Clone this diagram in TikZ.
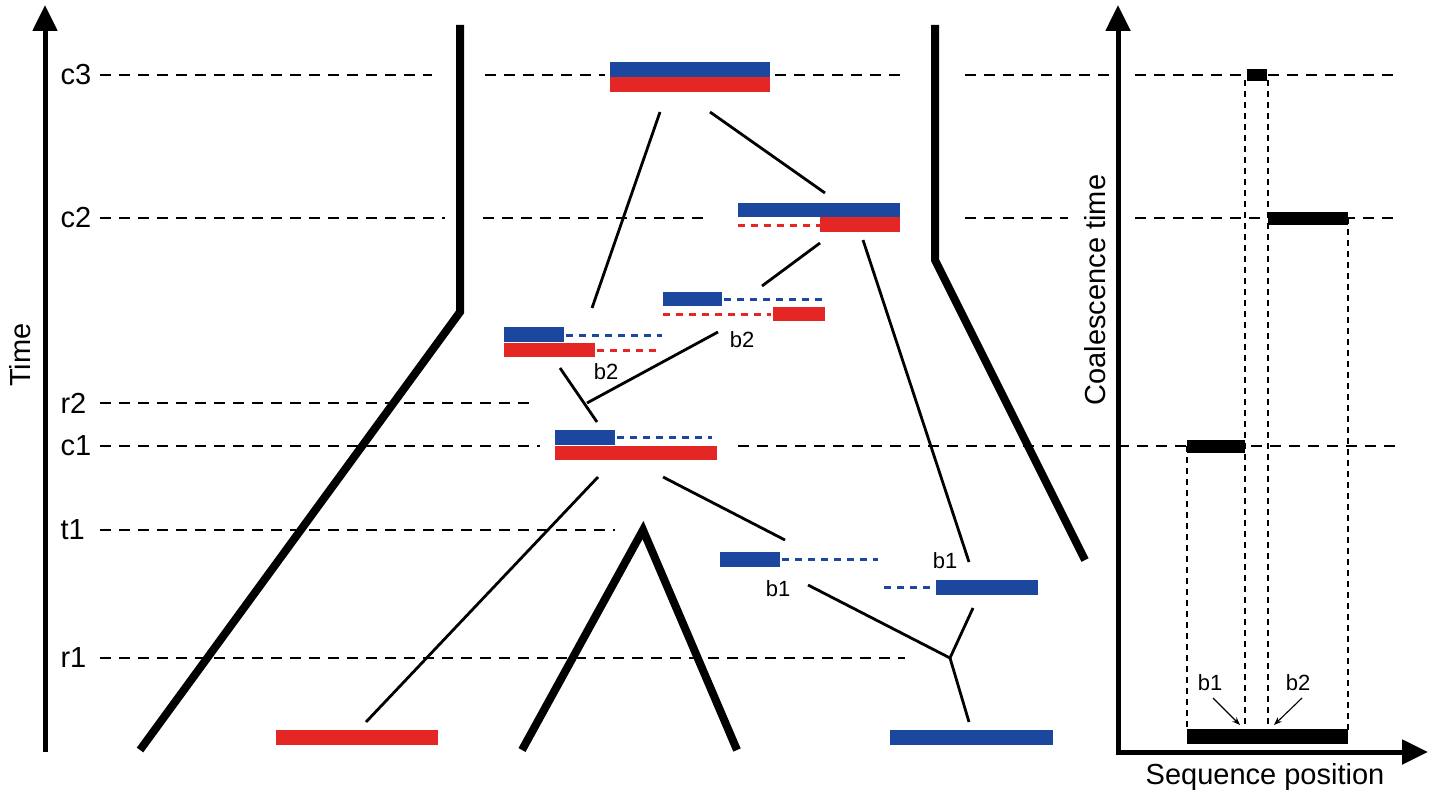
\documentclass[tikz,border=0pt]{standalone}
\usepackage{fontspec}
\setmainfont{Liberation Sans}
\usetikzlibrary{arrows.meta}
\definecolor{bblue}{RGB}{27,72,158}
\definecolor{rred}{RGB}{228,38,36}
\begin{document}
\begin{tikzpicture}[x=1pt,y=-1pt,
  lvl/.style={black,line width=2.8pt,dash pattern=on 11pt off 8pt},
  thick pop/.style={black,line width=8pt},
  thin/.style={black,line width=2.8pt},
  bdash/.style={bblue,line width=3pt,dash pattern=on 7pt off 6pt},
  rdash/.style={rred,line width=3pt,dash pattern=on 7pt off 6pt},
  lab/.style={font=\fontsize{22}{22}\selectfont},
  big/.style={font=\fontsize{29}{29}\selectfont},
  vd/.style={black,line width=1.1pt,dash pattern=on 6pt off 5pt},
  axis/.style={black,line width=5pt,-{Triangle[length=26pt,width=24pt]}}]
\useasboundingbox (0,0) rectangle (1432,800);
% time axis
\draw[axis] (45,752) -- (45,5);
\node[big,rotate=90] (time) at (20,355) {Time};
% level labels
\foreach \n/\y in {c3/75,c2/218,r2/403,c1/446,t1/530,r1/658}
  \node[big,anchor=west] (l\n) at (57,\y) {\n};
% dashed levels
\draw[lvl] (100,75) -- (432,75) (485,75) -- (605,75) (775,75) -- (900,75) (965,75) -- (1110,75) (1135,75) -- (1400,75);
\draw[lvl] (100,218) -- (445,218) (483,218) -- (705,218) (965,218) -- (1068,218) (1135,218) -- (1400,218);
\draw[lvl] (100,403) -- (535,403);
\draw[lvl] (100,446) -- (540,446) (738,446) -- (1400,446);
\draw[lvl] (100,530) -- (615,530);
\draw[lvl] (100,658) -- (905,658);
% population outlines
\draw[thick pop] (140,750) -- (460,312) -- (460,25);
\draw[thick pop] (1085,560) -- (935,260) -- (935,25);
\draw[thick pop] (522,750) -- (643,530) -- (737,750);
% bars
\fill[bblue] (610,62) rectangle (770,77); \fill[rred] (610,77) rectangle (770,92);
\fill[bblue] (738,203) rectangle (900,217); \fill[rred] (820,217) rectangle (900,232);
\draw[rdash] (738,225) -- (820,225);
\fill[bblue] (663,292) rectangle (722,306); \draw[bdash] (724,299) -- (822,299);
\fill[rred] (773,307) rectangle (825,321); \draw[rdash] (663,314) -- (771,314);
\fill[bblue] (504,327) rectangle (564,342); \draw[bdash] (566,335) -- (662,335);
\fill[rred] (504,343) rectangle (595,357); \draw[rdash] (597,350) -- (662,350);
\fill[bblue] (555,430) rectangle (615,445); \draw[bdash] (617,437) -- (712,437);
\fill[rred] (555,446) rectangle (717,460);
\fill[bblue] (720,552) rectangle (780,567); \draw[bdash] (782,559) -- (878,559);
\fill[bblue] (936,580) rectangle (1038,595); \draw[bdash] (884,587) -- (934,587);
\fill[rred] (276,730) rectangle (438,745);
\fill[bblue] (890,730) rectangle (1053,745);
% connectors
\coordinate (a1) at (660,112); \coordinate (a2) at (592,308);
\coordinate (a3) at (710,112); \coordinate (a4) at (825,193);
\coordinate (a5) at (820,243); \coordinate (a6) at (762,286);
\coordinate (a7) at (863,240); \coordinate (a8) at (969,562);
\coordinate (t1) at (560,368); \coordinate (t2) at (597,422);
\coordinate (tj) at (587,403); \coordinate (t3) at (718,332);
\coordinate (d1) at (598,477); \coordinate (d2) at (366,722);
\coordinate (d3) at (663,477); \coordinate (d4) at (785,540);
\coordinate (y1) at (808,585); \coordinate (yj) at (950,658);
\coordinate (y2) at (973,608); \coordinate (y3) at (969,722);
\draw[thin] (a1) -- (a2); \draw[thin] (a3) -- (a4);
\draw[thin] (a5) -- (a6); \draw[thin] (a7) -- (a8);
\draw[thin] (t1) -- (t2); \draw[thin] (t3) -- (tj);
\draw[thin] (d1) -- (d2); \draw[thin] (d3) -- (d4);
\draw[thin] (y1) -- (yj) -- (y2); \draw[thin] (yj) -- (y3);
\node[lab] (b1a) at (778,589) {b1};
\node[lab] (b1b) at (945,561) {b1};
\node[lab] (b2a) at (606,372) {b2};
\node[lab] (b2b) at (742,340) {b2};
% right panel
\draw[axis] (1118,752) -- (1118,5);
\draw[axis] (1116,752) -- (1428,752);
\node[big,rotate=90] (ct) at (1095,290) {Coalescence time};
\node[big] (sp) at (1265,777) {Sequence position};
\draw[vd] (1187,446) -- (1187,730);
\draw[vd] (1245,80) -- (1245,730);
\draw[vd] (1268,80) -- (1268,730);
\draw[vd] (1348,218) -- (1348,730);
\fill[black] (1247,69) rectangle (1267,81);
\fill[black] (1268,212) rectangle (1348,225);
\fill[black] (1187,440) rectangle (1245,453);
\fill[black] (1187,729) rectangle (1348,744);
\node[lab] (rb1) at (1210,683) {b1};
\node[lab] (rb2) at (1298,683) {b2};
\coordinate (p1) at (1213,698); \coordinate (p2) at (1240,725);
\coordinate (p3) at (1302,698); \coordinate (p4) at (1274,725);
\draw[line width=1.1pt,-{Stealth[length=8pt]}] (p1) -- (p2);
\draw[line width=1.1pt,-{Stealth[length=8pt]}] (p3) -- (p4);
\end{tikzpicture}
\end{document}
